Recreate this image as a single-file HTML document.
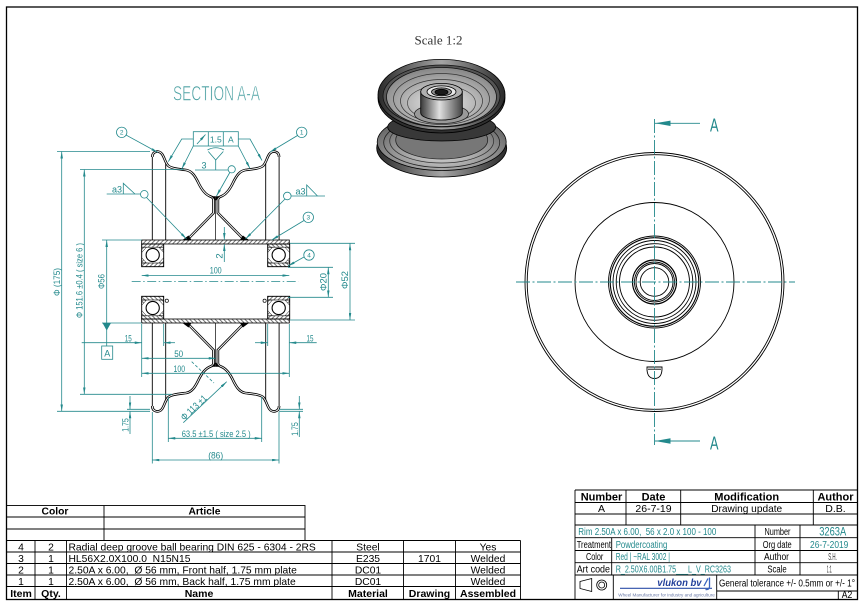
<!DOCTYPE html>
<html><head><meta charset="utf-8">
<style>
html,body{margin:0;padding:0;background:#fff;}
svg{display:block;}
.t{fill:#23898c;font-family:"Liberation Sans Narrow","Liberation Sans",sans-serif;}
.k{fill:#000;font-family:"Liberation Sans",sans-serif;}
.n{fill:#000;font-family:"Liberation Sans Narrow","Liberation Sans",sans-serif;}
</style></head><body>
<svg width="865" height="607" viewBox="0 0 865 607" xmlns="http://www.w3.org/2000/svg">
<defs>
<marker id="m" viewBox="0 0 10 3.6" refX="10" refY="1.8" markerWidth="7" markerHeight="2.5" markerUnits="userSpaceOnUse" orient="auto-start-reverse"><path d="M0,0L10,1.8L0,3.6z" fill="#23898c"/></marker>
<pattern id="h" width="3" height="3" patternUnits="userSpaceOnUse" patternTransform="rotate(45)"><line x1="0.5" y1="0" x2="0.5" y2="3" stroke="#000" stroke-width="0.55"/></pattern>
<linearGradient id="hub" x1="0" x2="1"><stop offset="0" stop-color="#3a3a3a"/><stop offset="0.45" stop-color="#e0e0e0"/><stop offset="1" stop-color="#444"/></linearGradient>
<linearGradient id="rim" x1="0" x2="1"><stop offset="0" stop-color="#2a2a2a"/><stop offset="0.5" stop-color="#a5a5a5"/><stop offset="1" stop-color="#2a2a2a"/></linearGradient>
<radialGradient id="dish" cx="0.5" cy="0.6" r="0.6"><stop offset="0" stop-color="#ececec"/><stop offset="1" stop-color="#858585"/></radialGradient>
<radialGradient id="dish2" cx="0.5" cy="0.7" r="0.6"><stop offset="0" stop-color="#d8d8d8"/><stop offset="1" stop-color="#6a6a6a"/></radialGradient>

<g id="q">
  <line x1="152.3" y1="155" x2="152.3" y2="240" stroke="#000" stroke-width="0.9"/>
  <line x1="165.7" y1="161" x2="165.7" y2="240" stroke="#000" stroke-width="0.9"/>
  <path d="M152.3,157 C152.3,151 159,150 162,154 C164.5,157.5 165,162 168,165.5 C171,168.5 178,169 186,170 C192,171 195,176 198,182 C201,188.5 205,194.5 210.5,196.5 C212.5,197.2 213.5,198 213.5,200 L213.5,213 L187,240" fill="none" stroke="#000" stroke-width="2.6"/>
  <path d="M152.3,157 C152.3,151 159,150 162,154 C164.5,157.5 165,162 168,165.5 C171,168.5 178,169 186,170 C192,171 195,176 198,182 C201,188.5 205,194.5 210.5,196.5 C212.5,197.2 213.5,198 213.5,200 L213.5,213 L187,240" fill="none" stroke="#fff" stroke-width="0.9"/>
  <polygon points="182.5,240 191.5,240 188.5,235.5" fill="#000"/>
  <polygon points="211.3,196.3 215.7,196.3 215.7,200.8" fill="#000"/>
  <line x1="215.7" y1="199" x2="215.7" y2="240" stroke="#000" stroke-width="0.6"/>
  <rect x="141.7" y="244" width="22" height="22.7" fill="#fff" stroke="#000" stroke-width="0.9"/>
  <rect x="141.7" y="244" width="22" height="3.2" fill="url(#h)" stroke="#000" stroke-width="0.6"/>
  <rect x="141.7" y="263" width="22" height="3.7" fill="url(#h)" stroke="#000" stroke-width="0.6"/>
  <path d="M141.7,247.2 L146.5,247.2 L141.7,252.5z M163.7,247.2 L158.9,247.2 L163.7,252.5z M141.7,263 L146.5,263 L141.7,257.7z M163.7,263 L158.9,263 L163.7,257.7z" fill="url(#h)" stroke="#000" stroke-width="0.5"/>
  <circle cx="152.7" cy="255" r="6.6" fill="#fff" stroke="#000" stroke-width="1.1"/>
</g>
<g id="up">
  <use href="#q"/>
  <use href="#q" transform="matrix(-1 0 0 1 431.4 0)"/>
  <rect x="141.7" y="240" width="147.6" height="4" fill="url(#h)" stroke="#000" stroke-width="0.8"/>
</g>
</defs>

<!-- frame -->
<rect x="6.5" y="7" width="851" height="592.5" fill="none" stroke="#000" stroke-width="1.3"/>

<!-- SECTION title -->
<text class="t" x="216.5" y="100.5" font-size="21" text-anchor="middle" textLength="87" lengthAdjust="spacingAndGlyphs" style="fill:#4aa0a2" stroke="#fff" stroke-width="0.6">SECTION A-A</text>

<!-- section geometry -->
<use href="#up"/>
<use href="#up" transform="matrix(1 0 0 -1 0 563)"/>
<circle cx="166.8" cy="300.7" r="1.6" fill="#fff" stroke="#000" stroke-width="0.7"/>
<circle cx="264.6" cy="300.7" r="1.6" fill="#fff" stroke="#000" stroke-width="0.7"/>

<!-- center line -->
<line x1="131.7" y1="281.5" x2="298.3" y2="281.5" stroke="#23898c" stroke-width="0.8" stroke-dasharray="9 2.5 1.5 2.5"/>

<g stroke="#23898c" stroke-width="0.8" fill="none">
  <line x1="57" y1="151.5" x2="150" y2="151.5"/>
  <line x1="57" y1="411.3" x2="150" y2="411.3"/>
  <line x1="61.7" y1="151.5" x2="61.7" y2="411.3" marker-start="url(#m)" marker-end="url(#m)"/>
  <line x1="80" y1="169.5" x2="184" y2="169.5"/>
  <line x1="80" y1="394.3" x2="172" y2="394.3"/>
  <line x1="84.3" y1="169.5" x2="84.3" y2="394.3" marker-start="url(#m)" marker-end="url(#m)"/>
  <line x1="102" y1="240" x2="141.7" y2="240"/>
  <line x1="102" y1="323" x2="141.7" y2="323"/>
  <line x1="106.7" y1="240" x2="106.7" y2="346" marker-start="url(#m)"/>
  <line x1="288" y1="267.3" x2="333" y2="267.3"/>
  <line x1="288" y1="297.3" x2="333" y2="297.3"/>
  <line x1="328.3" y1="267.3" x2="328.3" y2="297.3" marker-start="url(#m)" marker-end="url(#m)"/>
  <line x1="290" y1="243.3" x2="355" y2="243.3"/>
  <line x1="290" y1="320" x2="355" y2="320"/>
  <line x1="350" y1="243.3" x2="350" y2="320" marker-start="url(#m)" marker-end="url(#m)"/>
  <line x1="141.7" y1="275.5" x2="289.3" y2="275.5" marker-start="url(#m)" marker-end="url(#m)"/>
  <line x1="224.3" y1="227" x2="224.3" y2="240" marker-end="url(#m)"/>
  <line x1="224.3" y1="262" x2="224.3" y2="244" marker-end="url(#m)"/>
  <line x1="141.7" y1="324" x2="141.7" y2="377"/>
  <line x1="289.3" y1="324" x2="289.3" y2="377"/>
  <line x1="163.7" y1="324" x2="163.7" y2="346"/>
  <line x1="267.7" y1="324" x2="267.7" y2="346"/>
  <line x1="81.7" y1="342.7" x2="141.7" y2="342.7" marker-end="url(#m)"/>
  <line x1="175" y1="342.7" x2="163.7" y2="342.7" marker-end="url(#m)"/>
  <line x1="255" y1="342.7" x2="267.7" y2="342.7" marker-end="url(#m)"/>
  <line x1="316.7" y1="342.7" x2="289.3" y2="342.7" marker-end="url(#m)"/>
  <line x1="141.7" y1="358.3" x2="215.7" y2="358.3" marker-start="url(#m)" marker-end="url(#m)"/>
  <line x1="141.7" y1="373.3" x2="289.3" y2="373.3" marker-start="url(#m)" marker-end="url(#m)"/>
  <line x1="183.3" y1="422.7" x2="226.7" y2="381.7" marker-end="url(#m)"/>
  <line x1="191.7" y1="361.7" x2="214" y2="383" stroke-dasharray="3 2"/>
  <line x1="168.3" y1="397" x2="168.3" y2="442"/>
  <line x1="261.7" y1="397" x2="261.7" y2="442"/>
  <line x1="168.3" y1="438.3" x2="261.7" y2="438.3" marker-start="url(#m)" marker-end="url(#m)"/>
  <line x1="152.3" y1="412" x2="152.3" y2="463.5"/>
  <line x1="279" y1="412" x2="279" y2="463.5"/>
  <line x1="152.3" y1="460" x2="279" y2="460" marker-start="url(#m)" marker-end="url(#m)"/>
  <line x1="127" y1="409.3" x2="150" y2="409.3"/>
  <line x1="130" y1="396" x2="130" y2="409.3" marker-end="url(#m)"/>
  <line x1="130" y1="434" x2="130" y2="411.3" marker-end="url(#m)"/>
  <line x1="279" y1="411.3" x2="303" y2="411.3"/>
  <line x1="279" y1="409.3" x2="303" y2="409.3"/>
  <line x1="299.3" y1="396" x2="299.3" y2="409.3" marker-end="url(#m)"/>
  <line x1="299.3" y1="437" x2="299.3" y2="411.3" marker-end="url(#m)"/>
  <rect x="101.7" y="346" width="11" height="13.3"/>
  <circle cx="121.7" cy="132.3" r="5.2"/>
  <line x1="126" y1="135" x2="158" y2="152.5" marker-end="url(#m)"/>
  <circle cx="301.7" cy="132.3" r="5.2"/>
  <line x1="297.5" y1="135.5" x2="270" y2="152" marker-end="url(#m)"/>
  <circle cx="308.3" cy="217.3" r="5.2"/>
  <line x1="304" y1="220.5" x2="271.7" y2="240" marker-end="url(#m)"/>
  <circle cx="309" cy="255" r="5.2"/>
  <line x1="304" y1="257" x2="288" y2="266" marker-end="url(#m)"/>
  <rect x="193.3" y="131.7" width="45" height="14.3"/>
  <line x1="208.3" y1="131.7" x2="208.3" y2="146"/>
  <line x1="223.3" y1="131.7" x2="223.3" y2="146"/>
  <line x1="197" y1="144" x2="205.5" y2="134.5" marker-end="url(#m)"/>
  <polyline points="193.3,139 181.7,139 168.3,161.7" marker-end="url(#m)"/>
  <line x1="193.3" y1="146" x2="181.7" y2="169" marker-end="url(#m)"/>
  <polyline points="238.3,139 250,139 262,160.5" marker-end="url(#m)"/>
  <line x1="238.3" y1="146" x2="250" y2="168.5" marker-end="url(#m)"/>
  <line x1="195" y1="170" x2="228" y2="170"/>
  <line x1="215.7" y1="160" x2="215.7" y2="170"/>
  <polyline points="208.3,151.5 215.7,160 223.3,151.5"/>
  <path d="M207.5,150 Q215.7,145.5 224,150"/>
  <circle cx="231.7" cy="169.3" r="3.6"/>
  <line x1="229.8" y1="172.5" x2="216.5" y2="196" marker-end="url(#m)"/>
  <line x1="106.7" y1="194" x2="140.5" y2="194"/>
  <polyline points="123.3,194 123.3,183.3 135,194"/>
  <circle cx="144.3" cy="194.3" r="3.8"/>
  <line x1="146.5" y1="197.5" x2="186.5" y2="239" marker-end="url(#m)"/>
  <line x1="291" y1="196" x2="325" y2="196"/>
  <polyline points="306.7,196 306.7,185 317.5,196"/>
  <circle cx="287.3" cy="196" r="3.8"/>
  <line x1="285" y1="199" x2="245.5" y2="239" marker-end="url(#m)"/>
</g>
<polygon points="102.5,323 111,323 106.7,330.5" fill="#23898c"/>

<g class="t" font-size="9.5" text-anchor="middle">
  <text transform="translate(60,282) rotate(-90)" textLength="28" lengthAdjust="spacingAndGlyphs">Φ (175)</text>
  <text transform="translate(82.5,280.5) rotate(-90)" textLength="75" lengthAdjust="spacingAndGlyphs">Φ 151.6 ±0.4 ( size 6 )</text>
  <text transform="translate(104.5,281.5) rotate(-90)" textLength="15" lengthAdjust="spacingAndGlyphs">Φ56</text>
  <text transform="translate(326.3,282) rotate(-90)" textLength="18" lengthAdjust="spacingAndGlyphs">Φ20</text>
  <text transform="translate(348,280) rotate(-90)" textLength="18" lengthAdjust="spacingAndGlyphs">Φ52</text>
  <text transform="translate(222.5,256) rotate(-90)">2</text>
  <text transform="translate(128.5,425) rotate(-90)" textLength="13.6" lengthAdjust="spacingAndGlyphs">1.75</text>
  <text transform="translate(297.8,429) rotate(-90)" textLength="13.6" lengthAdjust="spacingAndGlyphs">1.75</text>
  <text transform="translate(196,410) rotate(-43.4)" textLength="32" lengthAdjust="spacingAndGlyphs">Φ 113 ±1</text>
  <text x="215.7" y="273.5" textLength="12" lengthAdjust="spacingAndGlyphs">100</text>
  <text x="178.7" y="357" textLength="9" lengthAdjust="spacingAndGlyphs">50</text>
  <text x="179.3" y="372" textLength="11.5" lengthAdjust="spacingAndGlyphs">100</text>
  <text x="128.3" y="341.5" textLength="7" lengthAdjust="spacingAndGlyphs">15</text>
  <text x="310" y="341.5" textLength="7" lengthAdjust="spacingAndGlyphs">15</text>
  <text x="216.2" y="436.8" textLength="69" lengthAdjust="spacingAndGlyphs">63.5 ±1.5 ( size 2.5 )</text>
  <text x="215.7" y="458.5" textLength="15" lengthAdjust="spacingAndGlyphs">(86)</text>
  <text x="107.2" y="356.3" font-size="9">A</text>
  <text x="215.8" y="142.3" font-size="8.5">1.5</text>
  <text x="230.8" y="142.3" font-size="8.5">A</text>
  <text x="204" y="168.3" font-size="9">3</text>
  <text x="117" y="192.5" font-size="9" textLength="10" lengthAdjust="spacingAndGlyphs">a3</text>
  <text x="300.5" y="194.5" font-size="9" textLength="10" lengthAdjust="spacingAndGlyphs">a3</text>
  <g font-size="6.5">
    <text x="121.7" y="134.6">2</text>
    <text x="301.7" y="134.6">1</text>
    <text x="308.3" y="219.6">3</text>
    <text x="309" y="257.3">4</text>
  </g>
</g>

<text x="438.5" y="44.5" font-size="13" text-anchor="middle" fill="#333" font-family="'Liberation Serif',serif">Scale 1:2</text>
<g stroke="#000" stroke-width="0.8">
  <ellipse cx="441.7" cy="148" rx="65" ry="29" fill="url(#rim)"/>
  <ellipse cx="441.7" cy="142" rx="64.5" ry="28.5" fill="url(#dish2)"/>
  <ellipse cx="441.7" cy="142.5" rx="58" ry="25" fill="none" stroke="#222"/>
  <ellipse cx="441.7" cy="141" rx="52" ry="22" fill="none" stroke="#333"/>
  <ellipse cx="441.7" cy="140" rx="46" ry="19" fill="#777" stroke="#222"/>
  <ellipse cx="441.7" cy="127" rx="54" ry="14" fill="#383838"/>
  <ellipse cx="441.5" cy="98" rx="63.5" ry="35" fill="#2e2e2e"/>
  <ellipse cx="441.5" cy="94.7" rx="63.5" ry="35.3" fill="url(#rim)"/>
  <ellipse cx="441.5" cy="96" rx="58.5" ry="31" fill="#555" stroke="#111"/>
  <ellipse cx="441.5" cy="97" rx="55" ry="29.5" fill="url(#dish)" stroke="#111"/>
  <ellipse cx="441.5" cy="99" rx="48" ry="25.5" fill="none" stroke="#333" stroke-width="0.7"/>
  <ellipse cx="441.5" cy="101" rx="41" ry="21.5" fill="none" stroke="#333" stroke-width="0.7"/>
  <ellipse cx="441.5" cy="103" rx="34" ry="17.5" fill="none" stroke="#444" stroke-width="0.7"/>
  <ellipse cx="441.5" cy="114" rx="27" ry="9.5" fill="#999" stroke="#222"/>
  <path d="M420.7,91.7 L420.7,113 A20.8,7 0 0 0 462.3,113 L462.3,91.7 z" fill="url(#hub)"/>
  <ellipse cx="441.5" cy="91.7" rx="20.8" ry="8.3" fill="#b0b0b0"/>
  <ellipse cx="441.5" cy="91.7" rx="14.5" ry="5.8" fill="#e8e8e8"/>
  <ellipse cx="441.5" cy="91.9" rx="10" ry="4" fill="#909090"/>
  <ellipse cx="441.5" cy="92.1" rx="6.5" ry="2.8" fill="#1a1a1a"/>
</g>

<g fill="none" stroke="#000" stroke-width="0.9">
  <circle cx="654.5" cy="282" r="129.5"/>
  <circle cx="654.5" cy="282" r="127.3"/>
  <circle cx="654.5" cy="282" r="79.5"/>
  <circle cx="654.5" cy="282" r="46"/>
  <circle cx="654.5" cy="282" r="44.3" stroke-width="1.1"/>
  <circle cx="654.5" cy="282" r="41.5"/>
  <circle cx="654.5" cy="282" r="38.3"/>
  <circle cx="654.5" cy="282" r="35"/>
  <circle cx="654.5" cy="282" r="22" stroke-width="1.2"/>
  <circle cx="654.5" cy="282" r="20"/>
  <circle cx="654.5" cy="282" r="18.5"/>
  <circle cx="654.5" cy="282" r="14.3"/>
  <path d="M647,367 L662,367 Q662.5,378.5 654.5,378.5 Q646.5,378.5 647,367 Z" fill="#fff"/>
  <line x1="648" y1="369.2" x2="661" y2="369.2"/>
</g>
<g stroke="#23898c" stroke-width="0.9">
  <line x1="654.5" y1="119" x2="654.5" y2="445" stroke-dasharray="14 2.5 2 2.5"/>
  <line x1="516" y1="282" x2="795" y2="282" stroke-dasharray="14 2.5 2 2.5"/>
  <line x1="655" y1="123.3" x2="700" y2="123.3"/>
  <line x1="655" y1="441" x2="700" y2="441"/>
</g>
<polygon points="655,123.3 670.5,120.6 670.5,126" fill="#23898c"/>
<polygon points="655,441 670.5,438.3 670.5,443.7" fill="#23898c"/>
<text class="t" x="714.3" y="131.7" font-size="18" text-anchor="middle" textLength="8.5" lengthAdjust="spacingAndGlyphs">A</text>
<text class="t" x="714.3" y="449.3" font-size="18" text-anchor="middle" textLength="8.5" lengthAdjust="spacingAndGlyphs">A</text>

<g stroke="#000" stroke-width="0.9" fill="none">
  <rect x="6.5" y="505.5" width="298.5" height="35"/>
  <line x1="6.5" y1="517" x2="305" y2="517"/>
  <line x1="6.5" y1="529" x2="305" y2="529"/>
  <line x1="104" y1="505.5" x2="104" y2="540.5"/>
  <line x1="6.5" y1="540.5" x2="520.5" y2="540.5"/>
  <line x1="6.5" y1="552" x2="520.5" y2="552"/>
  <line x1="6.5" y1="563.5" x2="520.5" y2="563.5"/>
  <line x1="6.5" y1="575" x2="520.5" y2="575"/>
  <line x1="6.5" y1="586.5" x2="520.5" y2="586.5"/>
  <line x1="35" y1="540.5" x2="35" y2="599.5"/>
  <line x1="66.5" y1="540.5" x2="66.5" y2="599.5"/>
  <line x1="332" y1="540.5" x2="332" y2="599.5"/>
  <line x1="403.5" y1="540.5" x2="403.5" y2="599.5"/>
  <line x1="455.5" y1="540.5" x2="455.5" y2="599.5"/>
  <line x1="520.5" y1="540.5" x2="520.5" y2="599.5"/>
</g>
<g class="k" font-size="10.3" text-anchor="middle">
  <text x="55" y="514.7" font-weight="bold">Color</text>
  <text x="204.5" y="514.7" font-weight="bold">Article</text>
  <text x="21" y="550.3">4</text><text x="51" y="550.3">2</text>
  <text x="368" y="550.3">Steel</text><text x="488" y="550.3">Yes</text>
  <text x="21" y="561.8">3</text><text x="51" y="561.8">1</text>
  <text x="368" y="561.8">E235</text><text x="429.5" y="561.8">1701</text><text x="488" y="561.8">Welded</text>
  <text x="21" y="573.3">2</text><text x="51" y="573.3">1</text>
  <text x="368" y="573.3">DC01</text><text x="488" y="573.3">Welded</text>
  <text x="21" y="584.8">1</text><text x="51" y="584.8">1</text>
  <text x="368" y="584.8">DC01</text><text x="488" y="584.8">Welded</text>
  <g font-weight="bold" font-size="10.5">
    <text x="21" y="596.8">Item</text><text x="51" y="596.8">Qty.</text>
    <text x="199" y="596.8">Name</text><text x="368" y="596.8">Material</text>
    <text x="429.5" y="596.8">Drawing</text><text x="488" y="596.8">Assembled</text>
  </g>
</g>
<g class="k" font-size="10.3">
  <text x="68.5" y="550.3">Radial deep groove ball bearing DIN 625 - 6304 - 2RS</text>
  <text x="68.5" y="561.8" xml:space="preserve">HL56X2.0X100.0  N15N15</text>
  <text x="68.5" y="573.3" xml:space="preserve">2.50A x 6.00,  Ø 56 mm, Front half, 1.75 mm plate</text>
  <text x="68.5" y="584.8" xml:space="preserve">2.50A x 6.00,  Ø 56 mm, Back half, 1.75 mm plate</text>
</g>

<g stroke="#000" stroke-width="0.9" fill="none">
  <line x1="575" y1="490" x2="857.5" y2="490"/>
  <line x1="575" y1="490" x2="575" y2="599.5"/>
  <line x1="575" y1="502.5" x2="857.5" y2="502.5"/>
  <line x1="575" y1="514" x2="857.5" y2="514"/>
  <line x1="575" y1="525" x2="857.5" y2="525"/>
  <line x1="575" y1="537.7" x2="857.5" y2="537.7"/>
  <line x1="575" y1="550.5" x2="857.5" y2="550.5"/>
  <line x1="575" y1="562.7" x2="857.5" y2="562.7"/>
  <line x1="575" y1="575" x2="857.5" y2="575"/>
  <line x1="626" y1="490" x2="626" y2="525"/>
  <line x1="680.7" y1="490" x2="680.7" y2="525"/>
  <line x1="813.3" y1="490" x2="813.3" y2="525"/>
  <line x1="611.7" y1="537.7" x2="611.7" y2="575"/>
  <line x1="755" y1="525" x2="755" y2="575"/>
  <line x1="800" y1="525" x2="800" y2="575"/>
  <line x1="613.3" y1="575" x2="613.3" y2="599.5"/>
  <line x1="716.7" y1="575" x2="716.7" y2="599.5"/>
  <line x1="716.7" y1="591" x2="857.5" y2="591"/>
  <line x1="838.3" y1="591" x2="838.3" y2="599.5"/>
  <path d="M580,581.5 L591.7,578.5 L591.7,591.5 L580,588.5 Z" stroke-width="0.8"/>
  <circle cx="601.7" cy="585" r="5" stroke-width="0.8"/>
  <circle cx="601.7" cy="585" r="3" stroke-width="0.8"/>
</g>
<g class="k" text-anchor="middle">
  <g font-size="11" font-weight="bold">
    <text x="601.5" y="500.5">Number</text>
    <text x="653.5" y="500.5">Date</text>
    <text x="746.7" y="500.5">Modification</text>
    <text x="835.5" y="500.5">Author</text>
  </g>
  <g font-size="10.5">
    <text x="601.5" y="512">A</text>
    <text x="653.5" y="512">26-7-19</text>
    <text x="746.7" y="512" textLength="71" lengthAdjust="spacingAndGlyphs">Drawing update</text>
    <text x="835.5" y="512">D.B.</text>
  </g>
</g>
<g font-size="10">
  <text class="t" x="578.3" y="535" textLength="138" lengthAdjust="spacingAndGlyphs" xml:space="preserve">Rim 2.50A x 6.00,  56 x 2.0 x 100 - 100</text>
  <text class="n" x="777.5" y="535" text-anchor="middle" textLength="26" lengthAdjust="spacingAndGlyphs">Number</text>
  <text class="t" x="832.7" y="535.5" font-size="12" text-anchor="middle" textLength="27" lengthAdjust="spacingAndGlyphs">3263A</text>
  <text class="n" x="576.7" y="547.8" textLength="34.3" lengthAdjust="spacingAndGlyphs">Treatment</text>
  <text class="t" x="615.7" y="547.8" textLength="51.6" lengthAdjust="spacingAndGlyphs">Powdercoating</text>
  <text class="n" x="777.2" y="547.8" text-anchor="middle" textLength="29" lengthAdjust="spacingAndGlyphs">Org date</text>
  <text class="t" x="829.2" y="547.8" text-anchor="middle" textLength="38.3" lengthAdjust="spacingAndGlyphs">26-7-2019</text>
  <text class="n" x="594.7" y="560" text-anchor="middle" textLength="17.3" lengthAdjust="spacingAndGlyphs">Color</text>
  <text class="t" x="615.7" y="560" textLength="54.3" lengthAdjust="spacingAndGlyphs">Red | ~RAL 3002 |</text>
  <text class="n" x="776.5" y="560" text-anchor="middle" textLength="25" lengthAdjust="spacingAndGlyphs">Author</text>
  <text class="n" x="832.5" y="560" text-anchor="middle" textLength="8.5" lengthAdjust="spacingAndGlyphs" style="fill:#333">S.H.</text>
  <text class="n" x="576.7" y="572.5" textLength="33.3" lengthAdjust="spacingAndGlyphs">Art code</text>
  <text class="t" x="615.7" y="572.5" textLength="115.3" lengthAdjust="spacingAndGlyphs">R_2.50X6.00B1.75___L_V_RC3263</text>
  <text class="n" x="777" y="572.5" text-anchor="middle" textLength="19.3" lengthAdjust="spacingAndGlyphs">Scale</text>
  <text class="n" x="829.2" y="572.5" text-anchor="middle" textLength="5" lengthAdjust="spacingAndGlyphs" style="fill:#333">1:1</text>
  <text class="n" x="719" y="586.5" textLength="136" lengthAdjust="spacingAndGlyphs">General tolerance +/- 0.5mm or +/- 1°</text>
  <text class="n" x="847" y="597.8" text-anchor="middle" textLength="10.5" lengthAdjust="spacingAndGlyphs">A2</text>
</g>
<line x1="620" y1="588.3" x2="712" y2="588.3" stroke="#2d4fa8" stroke-width="1.2"/>
<text x="657.3" y="586" font-size="10" font-style="italic" font-weight="bold" fill="#23409a" font-family="'Liberation Sans',sans-serif" textLength="44.3" lengthAdjust="spacingAndGlyphs">vlukon bv</text>
<path d="M704,586 L708,578.5 M709.5,577.5 L709.5,587 Q709,590 705.5,589.5" fill="none" stroke="#3a64c0" stroke-width="1.3"/>
<text x="618.3" y="596.5" font-size="4.5" fill="#6a7aa8" font-family="'Liberation Sans',sans-serif" textLength="96.5" lengthAdjust="spacingAndGlyphs">Wheel Manufacturer for industry and agriculture</text>
</svg>
</body></html>
